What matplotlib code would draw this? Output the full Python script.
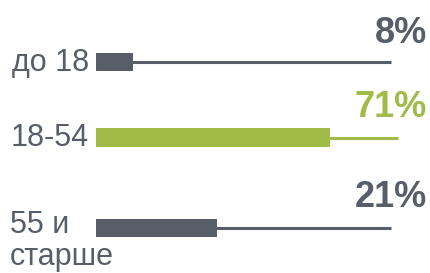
import matplotlib
matplotlib.use('Agg')
import matplotlib.pyplot as plt

plt.rcParams['font.family'] = ['Liberation Sans', 'DejaVu Sans']

# data
categories = ['до 18', '18-54', '55 и', 'старше']
values = [8, 71, 21]
pct_labels = ['8%', '71%', '21%']
# bar lengths as drawn (track = 100)
bar_lengths = [12.5, 79.3, 41.0]
track_lengths = [100, 102.4, 100]

gray = '#575e68'
green = '#a0bb48'
colors = [gray, green, gray]

# layout (pixel rows, axis is in pixel-like units)
row_y = [62, 137.5, 228]
pct_y = [43, 117, 207]
px_per_unit = 2.95
x0 = 96

fig = plt.figure(figsize=(4.31, 2.73), dpi=100)
ax = fig.add_axes([0, 0, 1, 1])
ax.set_xlim(-x0 / px_per_unit, (431 - x0) / px_per_unit)
ax.set_ylim(273, 0)
ax.axis('off')

for i in range(len(values)):
    c = colors[i]
    ax.plot([0, track_lengths[i]], [row_y[i], row_y[i]], color=c, lw=2.2,
            solid_capstyle='butt', zorder=1)
    ax.barh(row_y[i], bar_lengths[i], height=18.5, left=0, color=c, zorder=2)
    ax.text((427 - x0) / px_per_unit, pct_y[i], pct_labels[i], ha='right',
            va='baseline', fontsize=26, fontweight='bold', color=c)

# category labels
lab = dict(va='baseline', fontsize=22, color=gray)
ax.text((89 - x0) / px_per_unit, 71, categories[0], ha='right', **lab)
ax.text((89 - x0) / px_per_unit, 146, categories[1], ha='right', **lab)
ax.text((10 - x0) / px_per_unit, 233, categories[2], ha='left', **lab)
ax.text((10 - x0) / px_per_unit, 265.5, categories[3], ha='left', **lab)

fig.savefig('out.png', dpi=100)
